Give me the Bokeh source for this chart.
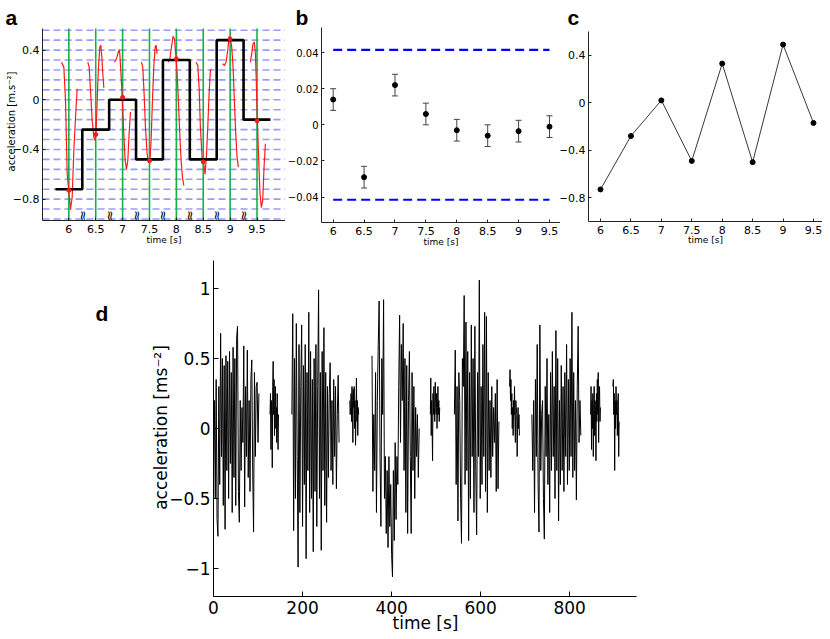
from math import pi, nan
from bokeh.plotting import figure
from bokeh.layouts import column, row
from bokeh.models import Label, FixedTicker, Whisker, ColumnDataSource, Range1d
from bokeh.core.properties import value
from bokeh.embed import file_html
from bokeh.resources import INLINE

FONT = "DejaVu Sans"
BOLD = "Liberation Sans"

# ---------------- data ----------------
times = [6, 6.5, 7, 7.5, 8, 8.5, 9, 9.5]
time_labels = ["6", "6.5", "7", "7.5", "8", "8.5", "9", "9.5"]
breaks = [6.25, 6.75, 7.25, 7.75, 8.25, 8.75, 9.25]

# panel a: quantised levels (step line) and quantisation grid
quant_levels = [-0.72, -0.24, 0.0, -0.48, 0.32, -0.48, 0.48, -0.16]
grid_levels = [-0.96, -0.88, -0.80, -0.72, -0.64, -0.56, -0.48, -0.40, -0.32, -0.24,
               -0.16, -0.08, 0.0, 0.08, 0.16, 0.24, 0.32, 0.40, 0.48, 0.56]
a_yticks = [-0.8, -0.4, 0, 0.4]
a_ylabels = ["\u22120.8", "\u22120.4", "0", "0.4"]

# panel a: red signal snippets around each sample time
red_t = [
    [5.864, 5.907, 5.938, 5.969, 6.0, 6.031, 6.062, 6.093, 6.124, 6.155],
    [6.353, 6.378, 6.403, 6.434, 6.465, 6.489, 6.508, 6.527, 6.551, 6.576, 6.595, 6.613, 6.632, 6.651],
    [6.849, 6.886, 6.911, 6.936, 6.948, 6.973, 6.998, 7.022, 7.047, 7.072, 7.097, 7.121, 7.146],
    [7.351, 7.375, 7.400, 7.425, 7.456, 7.481, 7.506, 7.530, 7.555, 7.580, 7.605, 7.623, 7.642],
    [7.846, 7.877, 7.908, 7.939, 7.964, 7.989, 8.014, 8.038, 8.063, 8.088, 8.113, 8.138],
    [8.367, 8.398, 8.423, 8.447, 8.478, 8.509, 8.534, 8.559, 8.584, 8.609, 8.633, 8.652],
    [8.862, 8.893, 8.924, 8.955, 8.980, 9.005, 9.030, 9.055, 9.079, 9.104, 9.129, 9.154],
    [9.377, 9.401, 9.426, 9.451, 9.470, 9.488, 9.507, 9.532, 9.556, 9.581, 9.606, 9.631, 9.656],
]
red_v = [
    [0.303, 0.263, -0.005, -0.596, -0.744, -0.878, -0.784, -0.408, -0.140, 0.089],
    [0.303, 0.263, 0.075, -0.166, -0.301, -0.328, -0.247, -0.005, 0.263, 0.424, 0.438, 0.344, 0.209, 0.097],
    [0.303, 0.330, 0.371, 0.403, 0.371, 0.183, -0.032, -0.274, -0.489, -0.556, -0.489, -0.274, -0.099],
    [0.303, 0.263, 0.048, -0.220, -0.435, -0.502, -0.502, -0.328, -0.005, 0.263, 0.424, 0.438, 0.370],
    [0.303, 0.322, 0.424, 0.510, 0.491, 0.370, 0.209, -0.005, -0.274, -0.489, -0.623, -0.690],
    [0.303, 0.277, 0.102, -0.220, -0.462, -0.515, -0.596, -0.462, -0.220, 0.048, 0.236, 0.250],
    [0.290, 0.277, 0.303, 0.397, 0.505, 0.491, 0.424, 0.263, -0.005, -0.274, -0.462, -0.542],
    [0.303, 0.370, 0.451, 0.464, 0.370, 0.129, -0.166, -0.489, -0.757, -0.864, -0.811, -0.542, -0.354],
]

# panel b: quantisation error with error bars
b_vals = [0.014, -0.029, 0.022, 0.006, -0.003, -0.006, -0.0035, -0.001]
b_err = [0.006, 0.006, 0.006, 0.006, 0.006, 0.006, 0.006, 0.006]
b_band = 0.0415
b_yticks = [-0.04, -0.02, 0, 0.02, 0.04]
b_ylabels = ["\u22120.04", "\u22120.02", "0", "0.02", "0.04"]

# panel c: sampled values
c_vals = [-0.73, -0.28, 0.02, -0.49, 0.33, -0.50, 0.49, -0.17]
c_yticks = [-0.8, -0.4, 0, 0.4]
c_ylabels = ["\u22120.8", "\u22120.4", "0", "0.4"]

# panel d: full acceleration record (bursts)
d_starts = [0, 127, 176, 306, 356, 487, 541, 665, 715, 847, 897]
d_steps = [2, 1, 2, 1, 2, 1, 2, 1, 2, 1, 1]
d_values = [
    [-0.3, 0.2, -0.5, 0.35, -0.65, -0.77, 0.3, -0.4, 0.68, -0.2,
     0.5, -0.55, 0.45, -0.72, 0.52, -0.3, 0.48, -0.5, 0.55, -0.25,
     0.4, -0.6, 0.58, -0.35, 0.5, -0.55, 0.65, 0.73, -0.45, -0.67,
     0.2, -0.3, 0.15, -0.1, 0.59, -0.56, 0.3, -0.2, 0.56, -0.35,
     0.2, -0.45, 0.35, 0.49, -0.3, -0.74, 0.4, -0.2, 0.3, 0.33,
     -0.1, 0.25],
    [0.1, 0.25, -0.15, 0.2, 0.05, -0.28, 0.3, 0.48, 0.1, 0.35,
     -0.05, 0.2, 0.3, 0.0, 0.15, -0.1, 0.25, 0.05, -0.15, 0.1],
    [0.1, 0.82, -0.73, 0.5, -0.5, 0.75, -0.2, -0.99, 0.6, -0.6,
     0.3, 0.74, -0.7, 0.45, -0.4, 0.6, -0.93, 0.4, -0.3, 0.83,
     -0.6, 0.55, -0.5, 0.35, -0.88, 0.5, -0.45, 0.6, -0.7, 0.3,
     0.99, -0.5, 0.4, -0.87, 0.55, -0.3, 0.72, -0.55, 0.4, -0.67,
     0.3, -0.35, 0.25, 0.47, -0.3, 0.2, -0.4, 0.35, -0.2, 0.3,
     -0.43, 0.1, 0.38, -0.1],
    [0.2, 0.1, 0.15, 0.25, 0.05, 0.3, 0.2, -0.1, 0.28, 0.15,
     0.3, 0.0, 0.2, -0.12, 0.1, 0.36, 0.05, 0.2, -0.05, 0.15, 0.1],
    [0.52, -0.45, 0.1, -0.3, 0.4, -0.6, 0.2, 0.6, 0.91, -0.2,
     -0.7, 0.5, 0.1, 0.92, -0.5, -0.2, -0.75, -0.3, -0.85, -0.2,
     -0.7, -0.4, -0.9, -1.06, -0.3, -0.8, -0.1, -0.65, -0.2, -0.4,
     0.3, 0.81, -0.1, 0.6, 0.2, 0.75, -0.3, 0.5, -0.6, 0.45,
     -0.75, 0.2, 0.55, -0.2, -0.75, 0.4, -0.3, 0.3, -0.5, 0.15,
     -0.2, 0.1, -0.35, 0.0],
    [0.1, 0.36, -0.05, 0.2, 0.0, -0.23, 0.25, 0.1, 0.3, 0.15,
     0.05, 0.33, 0.2, 0.1, 0.25, 0.0, 0.15, 0.3, 0.1, 0.2, 0.05, 0.15],
    [0.1, 0.56, -0.4, 0.3, -0.66, 0.4, 0.2, -0.5, -0.82, 0.5,
     0.3, 0.95, -0.4, 0.76, -0.3, 0.55, -0.8, 0.4, -0.5, 0.74,
     -0.2, 0.5, -0.6, 0.73, -0.3, -0.76, 0.4, -0.2, 1.06, -0.5,
     0.3, -0.4, 0.6, -0.2, 0.83, -0.45, 0.8, -0.6, 0.4, -0.3,
     0.2, -0.35, 0.3, -0.2, 0.15, -0.1, 0.25, -0.45, 0.35, -0.43, 0.05],
    [0.3, 0.42, 0.2, 0.35, 0.1, 0.25, 0.0, 0.15, -0.05, 0.2,
     0.1, 0.3, 0.05, -0.1, 0.2, 0.15, 0.1, -0.2, 0.05, 0.15, 0.0, 0.1, -0.05],
    [0.1, -0.3, 0.2, -0.6, 0.35, -0.2, 0.6, -0.4, -0.74, 0.74,
     -0.3, 0.1, 0.2, -0.5, -0.79, 0.3, -0.2, 0.5, -0.4, 0.1,
     -0.6, 0.4, -0.3, 0.55, -0.2, 0.3, -0.5, 0.7, -0.3, 0.5,
     -0.66, 0.2, -0.4, 0.45, -0.3, 0.3, -0.45, 0.4, -0.2, 0.6,
     -0.4, 0.35, -0.3, 0.5, -0.2, 0.83, -0.35, 0.4, -0.3, 0.2,
     -0.51, 0.3, 0.73, -0.1, 0.2, -0.05],
    [0.1, 0.3, -0.15, 0.2, 0.0, 0.25, -0.2, 0.15, 0.3, -0.05,
     0.2, 0.1, -0.23, 0.25, 0.05, 0.35, 0.1, 0.4, -0.1, 0.2, 0.3, 0.05, 0.15],
    [0.3, 0.35, 0.1, 0.25, -0.3, 0.2, 0.0, 0.3, 0.1, 0.2,
     -0.05, 0.15, 0.25, -0.2, 0.05],
]
d_xticks = [0, 200, 400, 600, 800]
d_yticks = [-1, -0.5, 0, 0.5, 1]
d_ylabels = ["\u22121", "\u22120.5", "0", "0.5", "1"]

# ---------------- helpers ----------------
# plot-area geometry in picture pixels: (left, right, top, bottom, xrange, yrange)
GA = (42, 285, 28, 220, (5.51, 10.03), (-0.972, 0.574))
GB = (321, 560, 27, 222, (5.811, 9.678), (-0.0541, 0.0539))
GC = (588, 822, 31, 221, (5.803, 9.648), (-1.0, 0.6))
GD = (213, 636, 260, 596, (0, 950), (-1.2, 1.2))
TOP_H = 249


def px2data(g, px, py):
    fl, fr, ft, fb, (x0, x1), (y0, y1) = g
    return (x0 + (px - fl) / (fr - fl) * (x1 - x0),
            y1 - (py - ft) / (fb - ft) * (y1 - y0))


def make_panel(box, g, xsize, ysize, tick_in, color, xstand, ystand):
    left, top, right, bottom = box
    xlo, yhi = px2data(g, left, top)
    xhi, ylo = px2data(g, right, bottom)
    p = figure(width=right - left, height=bottom - top,
               x_range=Range1d(xlo, xhi), y_range=Range1d(ylo, yhi),
               output_backend="svg", toolbar_location=None, title=None,
               min_border=0)
    p.outline_line_color = None
    p.xgrid.visible = False
    p.ygrid.visible = False
    p.background_fill_color = "white"
    p.border_fill_color = "white"
    (x0, x1), (y0, y1) = g[4], g[5]
    xa, ya = p.below[0], p.left[0]
    xa.fixed_location = y0
    xa.bounds = (x0, x1)
    ya.fixed_location = x0
    ya.bounds = (y0, y1)
    for ax, st, sz in ((xa, xstand, xsize), (ya, ystand, ysize)):
        ax.axis_line_color = color
        ax.axis_line_width = 1
        ax.major_tick_in = tick_in
        ax.major_tick_out = 0
        ax.major_tick_line_color = color
        ax.minor_tick_line_color = None
        ax.major_label_text_font = FONT
        ax.major_label_text_font_size = sz
        ax.major_label_text_color = "black"
        ax.major_label_standoff = st
    return p


def add_text(p, g, px, py, text, size, angle=0.0, bold=False, align="center",
             baseline="middle", font=FONT):
    x, y = px2data(g, px, py)
    p.add_layout(Label(x=x, y=y, text=text, text_font=font,
                       text_font_size=size, text_font_style="bold" if bold else "normal",
                       angle=angle, text_align=align, text_baseline=baseline,
                       text_color="black"))

# ---------------- panel a ----------------
pa = make_panel((0, 0, 285, TOP_H), GA, "11px", "11px", 3, "#222222", 4, 3)
ax0, ax1 = GA[4]
ay0, ay1 = GA[5]
pa.segment(x0=[ax0] * len(grid_levels), x1=[ax1] * len(grid_levels), y0=grid_levels, y1=grid_levels,
           line_color="#8f8fff", line_width=1.6, line_dash="7 4", line_alpha=0.9)
pa.segment(x0=times, x1=times, y0=[ay0] * len(times), y1=[ay1] * len(times),
           line_color="#14b04c", line_width=1.6)
pa.multi_line(xs=red_t, ys=red_v, line_color="#ff1a1a", line_width=1.2, line_join="round")
half = (times[1] - times[0]) / 2
step_x, step_y = [], []
for t, q in zip(times, quant_levels):
    step_x += [t - half, t + half]
    step_y += [q, q]
pa.line(step_x, step_y, line_color="black", line_width=2.6)
pa.scatter(times, c_vals, size=4, color="#ff1a1a")
by = px2data(GA, 0, 215)[1]
pa.text(x=breaks, y=[by] * len(breaks), text=["\u2248"] * len(breaks), angle=pi / 2,
        text_font=value(FONT), text_font_size="13px", text_align="center",
        text_baseline="middle", text_color="black")
pa.xaxis.ticker = FixedTicker(ticks=times)
pa.xaxis.major_label_overrides = dict(zip(times, time_labels))
pa.yaxis.ticker = FixedTicker(ticks=a_yticks)
pa.yaxis.major_label_overrides = dict(zip(a_yticks, a_ylabels))
add_text(pa, GA, 5, 17, "a", "21px", bold=True, align="left", baseline="alphabetic", font=BOLD)
add_text(pa, GA, 11, 121, "acceleration [m.s\u207b\u00b2]", "10px", angle=pi / 2)
add_text(pa, GA, 163.5, 239, "time [s]", "9px")

# ---------------- panel b ----------------
pb = make_panel((285, 0, 560, TOP_H), GB, "11px", "10px", 3, "#222222", 4, 3)
pb.segment(x0=[times[0], times[0]], x1=[times[-1], times[-1]], y0=[b_band, -b_band],
           y1=[b_band, -b_band], line_color="#0000ff", line_width=2.2, line_dash="9 5")
src_b = ColumnDataSource(dict(t=times, v=b_vals,
                              lo=[v - e for v, e in zip(b_vals, b_err)],
                              hi=[v + e for v, e in zip(b_vals, b_err)]))
wh = Whisker(source=src_b, base="t", upper="hi", lower="lo", line_color="#444444", line_width=1)
wh.upper_head.size = 6
wh.lower_head.size = 6
wh.upper_head.line_color = "#444444"
wh.lower_head.line_color = "#444444"
pb.add_layout(wh)
pb.scatter("t", "v", source=src_b, size=5, color="black")
pb.xaxis.ticker = FixedTicker(ticks=times)
pb.xaxis.major_label_overrides = dict(zip(times, time_labels))
pb.yaxis.ticker = FixedTicker(ticks=b_yticks)
pb.yaxis.major_label_overrides = dict(zip(b_yticks, b_ylabels))
add_text(pb, GB, 295, 17, "b", "21px", bold=True, align="left", baseline="alphabetic", font=BOLD)
add_text(pb, GB, 440.5, 241, "time [s]", "9px")

# ---------------- panel c ----------------
pc = make_panel((560, 0, 822, TOP_H), GC, "11px", "11px", 3, "#222222", 4, 3)
pc.line(times, c_vals, line_color="#222222", line_width=0.9)
pc.scatter(times, c_vals, size=5, color="black")
pc.xaxis.ticker = FixedTicker(ticks=times)
pc.xaxis.major_label_overrides = dict(zip(times, time_labels))
pc.yaxis.ticker = FixedTicker(ticks=c_yticks)
pc.yaxis.major_label_overrides = dict(zip(c_yticks, c_ylabels))
add_text(pc, GC, 567, 17, "c", "21px", bold=True, align="left", baseline="alphabetic", font=BOLD)
add_text(pc, GC, 705, 239, "time [s]", "9px")

# ---------------- panel d ----------------
pd_ = make_panel((0, TOP_H, 822, 631), GD, "17px", "17px", 5, "black", 4, 3)
dx, dy = [], []
for start, step, vals in zip(d_starts, d_steps, d_values):
    dx += [start + step * i for i in range(len(vals))] + [nan]
    dy += list(vals) + [nan]
pd_.line(dx, dy, line_color="black", line_width=1)
pd_.xaxis.ticker = FixedTicker(ticks=d_xticks)
pd_.xaxis.major_label_overrides = {t: str(t) for t in d_xticks}
pd_.yaxis.ticker = FixedTicker(ticks=d_yticks)
pd_.yaxis.major_label_overrides = dict(zip(d_yticks, d_ylabels))
add_text(pd_, GD, 95, 313, "d", "21px", bold=True, align="left", baseline="alphabetic", font=BOLD)
add_text(pd_, GD, 160, 427, "acceleration [ms\u207b\u00b2]", "17px", angle=pi / 2)
add_text(pd_, GD, 425, 622, "time [s]", "17px")

layout = column(row(pa, pb, pc), pd_)
open("out.html", "w").write(file_html(layout, INLINE))
